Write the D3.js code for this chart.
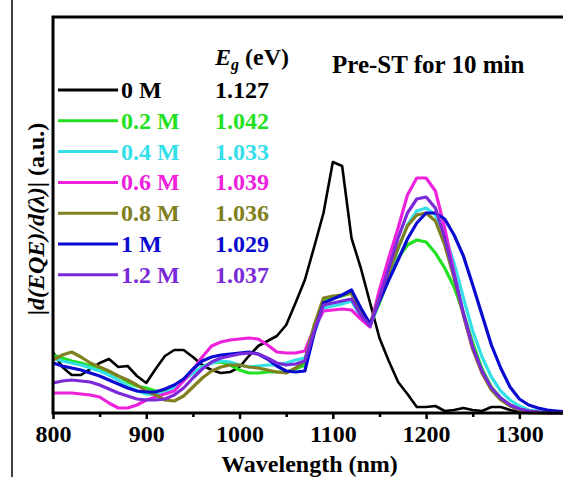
<!DOCTYPE html>
<html><head><meta charset="utf-8">
<script src="https://cdn.jsdelivr.net/npm/d3@7/dist/d3.min.js"></script>
<style>body{margin:0;background:#fff;}svg{display:block;}svg text{font-family:"Liberation Serif","Tinos","Times New Roman","Nimbus Roman","DejaVu Serif",serif !important;font-weight:bold;}</style>
</head><body><svg id="c" width="563" height="477"></svg>
<script>
const wavelengths = d3.range(800, 1351, 10);
const seriesNames = ["0 M","0.2 M","0.4 M","0.6 M","0.8 M","1 M","1.2 M"];
const bandgaps = ["1.127","1.042","1.033","1.039","1.036","1.029","1.037"];
const colors = ["#000000","#22e022","#33e0e8","#ee22dd","#808020","#0a0ad0","#7a2ad8"];
const s0M = [61,46,38,38,44,50,54,46,47,37,30,44,57,63,63,56,48,43,40,41,46,57,67,72,77,88,110,133,166,200,251,247,175,145,110,75,52,31,19,6,6,7,2,3,5,3,2,6,6,3,1,0,0,0,0,0];
const s02M = [58,55,52,50,47,44,41,37,31,27,25,22,22,26,33,40,46,50,51,48,43,40,40,41,41,41,44,48,80,112,115,117,120,100,88,110,135,155,168,173,171,160,145,126,100,70,44,26,15,8,4,2,1,0,0,0];
const s04M = [55,52,50,48,45,42,38,33,27,22,19,18,20,25,33,40,46,50,52,51,48,46,47,48,48,50,53,55,80,105,107,109,112,96,87,112,138,164,188,202,205,198,178,150,115,82,56,36,22,13,7,3,2,1,0,0];
const s06M = [20,20,20,19,18,16,10,5,5,8,13,16,19,22,32,43,56,67,71,73,74,75,74,68,61,60,60,62,85,102,103,104,103,94,86,123,155,185,218,235,235,222,185,140,98,64,40,24,14,8,4,2,1,0,0,0];
const s08M = [53,58,61,56,50,46,42,37,33,28,22,18,13,12,17,26,35,42,46,48,48,46,45,43,41,40,45,52,88,115,117,118,120,100,90,115,140,165,187,198,200,192,168,135,98,64,40,23,13,7,3,1,0,0,0,0];
const s1M = [50,47,45,43,40,37,33,29,25,22,21,21,24,28,34,44,52,56,58,59,60,61,59,54,47,42,41,42,80,110,114,118,123,105,89,112,133,153,174,190,200,200,194,178,157,128,98,68,45,26,14,8,5,3,2,1];
const s12M = [30,32,33,32,31,28,24,20,17,14,13,13,14,18,25,35,44,51,55,57,59,60,59,55,50,48,49,52,82,108,110,112,114,98,87,115,145,175,200,214,216,205,175,138,100,66,42,25,15,8,4,2,1,0,0,0];
const allSeries = [s0M,s02M,s04M,s06M,s08M,s1M,s12M];
const xTicks = [800,900,1000,1100,1200,1300];
const xMinorTicks = [850,950,1050,1150,1250,1350];

const svg = d3.select("#c");
const x = d3.scaleLinear().domain([800,1350]).range([53,566]);
const y = d3.scaleLinear().domain([0,396]).range([413,17]);

svg.append("line").attr("x1",12).attr("x2",12).attr("y1",0).attr("y2",477).attr("stroke","#000").attr("stroke-width",1.5);

const g = svg.append("g");
const line = d3.line().x((d,i)=>x(wavelengths[i])).y(d=>y(d));
allSeries.forEach((s,k)=>{
  g.append("path").datum(s).attr("d",line).attr("fill","none")
   .attr("stroke",colors[k]).attr("stroke-width",k===0?2.6:3.2).attr("stroke-linejoin","round");
});

svg.append("path").attr("d",`M${x(1350)+5},17 H53 V413 H${x(1350)+5}`).attr("fill","none").attr("stroke","#000").attr("stroke-width",3);

const xAxis = d3.axisBottom(x).tickValues(xTicks).tickSize(6).tickPadding(6).tickFormat(d3.format("d"));
const ax = svg.append("g").attr("transform","translate(0,413)").call(xAxis);
ax.attr("font-family",null);
ax.select(".domain").remove();
ax.selectAll(".tick line").attr("stroke-width",2.5);
ax.selectAll("text").attr("font-size",24).attr("fill","#000");
const axm = svg.append("g").attr("transform","translate(0,413)").call(d3.axisBottom(x).tickValues(xMinorTicks).tickSize(4).tickFormat(""));
axm.select(".domain").remove();
axm.selectAll(".tick line").attr("stroke-width",2.5);

svg.append("text").attr("x",x(1075)).attr("y",472).attr("text-anchor","middle").attr("font-size",24).text("Wavelength (nm)");

const yl = svg.append("text").attr("transform","translate(44,219) rotate(-90)").attr("text-anchor","middle").attr("font-size",24);
yl.append("tspan").text("|");
yl.append("tspan").attr("font-style","italic").text("d(EQE)/d(λ)");
yl.append("tspan").text("| (a.u.)");

const leg = svg.append("g");
seriesNames.forEach((n,i)=>{
  const cy = 90 + i*30.8;
  leg.append("line").attr("x1",58).attr("x2",118).attr("y1",cy).attr("y2",cy).attr("stroke",colors[i]).attr("stroke-width",3);
  leg.append("text").attr("x",121).attr("y",cy+8).attr("font-size",24).attr("fill",colors[i]).text(n);
  leg.append("text").attr("x",215).attr("y",cy+8).attr("font-size",24).attr("fill",colors[i]).text(bandgaps[i]);
});
const eg = svg.append("text").attr("x",215).attr("y",65).attr("font-size",24);
eg.append("tspan").attr("font-style","italic").text("E");
eg.append("tspan").attr("font-style","italic").attr("font-size",16).attr("dy",5).text("g");
eg.append("tspan").attr("dy",-5).text(" (eV)");

svg.append("text").attr("x",332).attr("y",73).attr("font-size",25).text("Pre-ST for 10 min");
</script></body></html>
